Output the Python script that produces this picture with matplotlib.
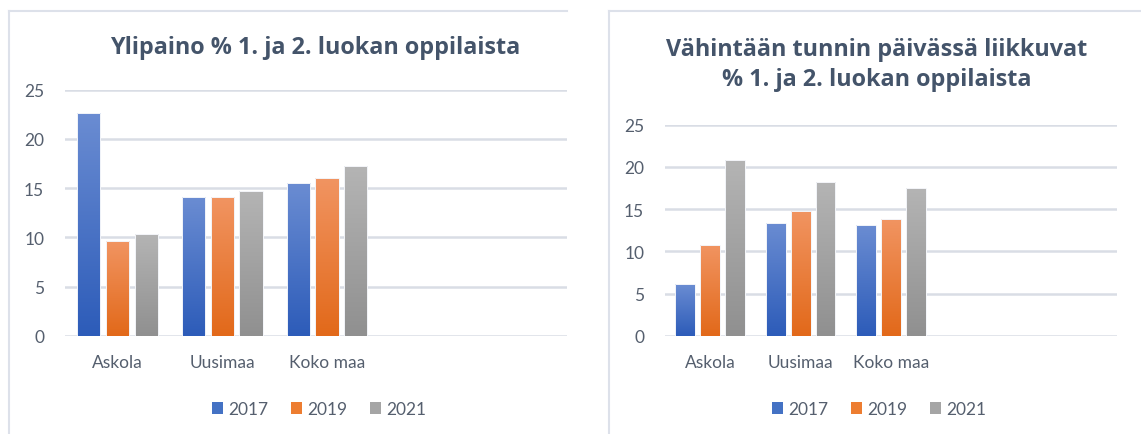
import numpy as np
import matplotlib
matplotlib.use("Agg")
import matplotlib.pyplot as plt
from matplotlib.patches import Patch
from matplotlib.lines import Line2D
from matplotlib.colors import to_rgb

plt.rcParams['font.family'] = ['Lato', 'DejaVu Sans']

categories = ["Askola", "Uusimaa", "Koko maa"]
years = ["2017", "2019", "2021"]

overweight_2017 = [22.6, 14.1, 15.5]
overweight_2019 = [9.6, 14.1, 16.0]
overweight_2021 = [10.3, 14.7, 17.2]

active_2017 = [6.1, 13.4, 13.1]
active_2019 = [10.8, 14.8, 13.8]
active_2021 = [20.8, 18.2, 17.5]

title_left = "Ylipaino % 1. ja 2. luokan oppilaista"
title_right = "Vähintään tunnin päivässä liikkuvat\n% 1. ja 2. luokan oppilaista"
yticks = [0, 5, 10, 15, 20, 25]

base_colors = ["#4472c4", "#ed7d31", "#a5a5a5"]
top_colors = ["#6a8cd2", "#f19461", "#b4b4b4"]
bot_colors = ["#2d5cb9", "#e2691a", "#909090"]

TEXT = "#44546a"
TICK = "#555f6e"
GRID = "#d9dde5"

W, H = 1141, 435
fig = plt.figure(figsize=(W / 100, H / 100), dpi=100)


def grad_bars(ax, xs, vals, top, bot):
    bars = ax.bar(xs, vals, width=0.22, facecolor="none", edgecolor="#f4f6fa",
                  linewidth=0.7, zorder=3)
    t = np.array(to_rgb(top)); b = np.array(to_rgb(bot))
    n = 64
    f = np.linspace(0, 1, n)[:, None]
    img = (t[None, :] * (1 - f) + b[None, :] * f).reshape(n, 1, 3)
    for bar in bars:
        x0 = bar.get_x(); w = bar.get_width(); h = bar.get_height()
        im = ax.imshow(img, extent=[x0, x0 + w, 0, h], origin="upper",
                       aspect="auto", zorder=2.5, interpolation="bilinear")
        im.set_clip_path(bar)
    return bars


def panel(rect, series, title, xmax, title_x, title_y, legend_x, legend_y):
    ax = fig.add_axes(rect)
    x = np.arange(len(categories))
    offs = [-0.275, 0, 0.275]
    for i, s in enumerate(series):
        grad_bars(ax, x + offs[i], s, top_colors[i], bot_colors[i])
    ax.set_xlim(-0.5, xmax)
    ax.set_ylim(0, 25)
    ax.set_yticks(yticks)
    ax.set_xticks(x)
    ax.set_xticklabels(categories)
    for sp in ax.spines.values():
        sp.set_visible(False)
    ax.tick_params(axis="both", length=0, colors=TICK, labelsize=12.5)
    ax.tick_params(axis="y", pad=15)
    ax.tick_params(axis="x", pad=13)
    ax.yaxis.grid(True, color=GRID, linewidth=1.8, zorder=0)
    ax.set_axisbelow(True)
    fig.text(title_x / W, 1 - title_y / H, title, ha="center", va="center",
             fontsize=16.8, fontweight="bold", color=TEXT, linespacing=1.3,
             family=["Open Sans", "DejaVu Sans"])
    handles = [Patch(facecolor=c, edgecolor="none") for c in base_colors]
    leg = fig.legend(handles, years, loc="center", ncol=3,
                     bbox_to_anchor=(legend_x / W, 1 - legend_y / H),
                     frameon=False, fontsize=12.5, handlelength=0.65,
                     handleheight=0.65, handletextpad=0.3, columnspacing=1.3)
    for t in leg.get_texts():
        t.set_color(TICK)
    return ax


panel([65 / W, (H - 336.7) / H, 502 / W, 246 / H],
      [overweight_2017, overweight_2019, overweight_2021], title_left,
      xmax=(567 - 65) / 104.8 - 0.5, title_x=315, title_y=48,
      legend_x=319, legend_y=410)

panel([665 / W, (H - 336.7) / H, 452 / W, (336.7 - 125.7) / H],
      [active_2017, active_2019, active_2021], title_right,
      xmax=4.5, title_x=877, title_y=65, legend_x=879, legend_y=410)

# panel frames
BORDER = "#dde1ea"
fig.add_artist(Line2D([9 / W, 9 / W], [0, 1 - 12 / H], color=BORDER, lw=1.5,
                      transform=fig.transFigure))
fig.add_artist(Line2D([9 / W, 567 / W], [1 - 12 / H, 1 - 12 / H], color=BORDER,
                      lw=1.5, transform=fig.transFigure))
fig.add_artist(Line2D([609 / W, 609 / W], [0, 1 - 12 / H], color=BORDER, lw=1.5,
                      transform=fig.transFigure))
fig.add_artist(Line2D([609 / W, 1], [1 - 12 / H, 1 - 12 / H], color=BORDER,
                      lw=1.5, transform=fig.transFigure))

fig.savefig("out.png", dpi=100)
